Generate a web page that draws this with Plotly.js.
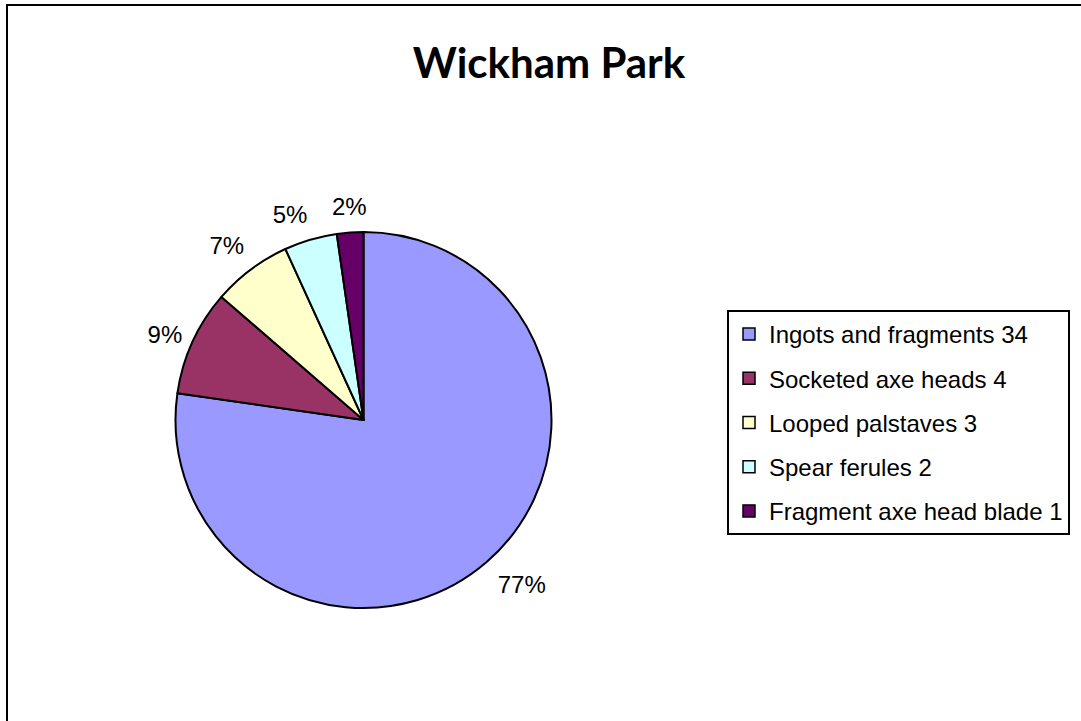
<!DOCTYPE html>
<html>
<head>
<meta charset="utf-8">
<script src="https://cdn.plot.ly/plotly-3.0.1.min.js"></script>
<style>
  html, body { margin: 0; padding: 0; background: #ffffff; }
  #chart { width: 1081px; height: 721px; }
</style>
</head>
<body>
<div id="chart"></div>
<script>
const chartTitle = 'Wickham Park';
const categories = ['Ingots and fragments 34', 'Socketed axe heads 4', 'Looped palstaves 3', 'Spear ferules 2', 'Fragment axe head blade 1'];
const counts = [34, 4, 3, 2, 1];
const sliceColors = ['#9999FF', '#993366', '#FFFFCC', '#CCFFFF', '#660066'];

// pie placement in pixels (centre and radius) – shared by the pie and the hidden label axes
const W = 1081, H = 721;
const cxPx = 363.5, cyPx = 420, rPx = 188;
const axisSpan = 1.5; // hidden label axes reach 1.5 radii from the centre
const pieDomX = [(cxPx - rPx) / W, (cxPx + rPx) / W];
const pieDomY = [(H - cyPx - rPx) / H, (H - cyPx + rPx) / H];
const axDomX = [(cxPx - axisSpan * rPx) / W, (cxPx + axisSpan * rPx) / W];
const axDomY = [(H - cyPx - axisSpan * rPx) / H, (H - cyPx + axisSpan * rPx) / H];
const labelFont = { family: 'Liberation Sans, Arial, sans-serif', size: 24, color: '#000000' };
const labelRadius = { top: 1.06, middle: 1.06, bottom: 1.09 };

const total = counts.reduce((a, b) => a + b, 0);

const pieTrace = {
  type: 'pie',
  labels: categories,
  values: counts,
  sort: false,
  direction: 'clockwise',
  rotation: 0,
  marker: { colors: sliceColors, line: { color: '#000000', width: 2 } },
  textinfo: 'none',
  hoverinfo: 'label+value+percent',
  showlegend: false,
  domain: { x: pieDomX, y: pieDomY }
};

// percentage labels outside the slices, placed from the data through hidden axes
const lx = [], ly = [], lt = [], lp = [];
let cum = 0;
counts.forEach(v => {
  const mid = (cum + v / 2) / total * 2 * Math.PI;
  cum += v;
  const s = Math.sin(mid), c = Math.cos(mid);
  const vert = c > 0.5 ? 'top' : (c < -0.5 ? 'bottom' : 'middle');
  const hor = Math.abs(s) < 0.2 ? 'center' : (s > 0 ? 'right' : 'left');
  const rad = labelRadius[vert];
  lx.push(rad * s);
  ly.push(rad * c);
  lt.push(Math.round(v / total * 100) + '%');
  lp.push(vert + ' ' + hor);
});

const labelTrace = {
  type: 'scatter', mode: 'text',
  x: lx, y: ly, text: lt, textposition: lp,
  textfont: labelFont, cliponaxis: false,
  hoverinfo: 'skip', showlegend: false
};

// legend entries, one per category
const legendTraces = categories.map((name, i) => ({
  type: 'scatter', mode: 'markers',
  x: [null], y: [null], name: name,
  legendgroup: 'g' + i, showlegend: true,
  marker: { symbol: 'square', size: 12, color: sliceColors[i], line: { color: '#000000', width: 1.5 } },
  hoverinfo: 'skip'
}));

const layout = {
  width: W,
  height: H,
  margin: { l: 0, r: 0, t: 0, b: 0 },
  paper_bgcolor: '#ffffff',
  plot_bgcolor: 'rgba(0,0,0,0)',
  title: {
    text: '<b>' + chartTitle + '</b>',
    x: 549 / W, xanchor: 'center', xref: 'paper',
    y: 1 - 63 / H, yanchor: 'middle', yref: 'container',
    font: { family: 'Lato, Open Sans, sans-serif', size: 42, color: '#000000' }
  },
  xaxis: { domain: axDomX, range: [-axisSpan, axisSpan], visible: false, fixedrange: true },
  yaxis: { domain: axDomY, range: [-axisSpan, axisSpan], visible: false, fixedrange: true },
  showlegend: true,
  legend: {
    x: 727 / W, xanchor: 'left',
    y: 1 - 310 / H, yanchor: 'top',
    bordercolor: '#000000', borderwidth: 2,
    bgcolor: '#ffffff',
    font: { family: 'Liberation Sans, Arial, sans-serif', size: 24, color: '#000000' },
    traceorder: 'grouped', tracegroupgap: 10
  },
  shapes: [{
    type: 'rect', xref: 'paper', yref: 'paper',
    x0: 7 / W, x1: 1.05, y0: -0.05, y1: 1 - 5 / H,
    line: { color: '#000000', width: 2 }, fillcolor: 'rgba(0,0,0,0)', layer: 'above'
  }]
};

Plotly.newPlot('chart', [pieTrace, labelTrace].concat(legendTraces), layout, { displayModeBar: false, staticPlot: true });
</script>
</body>
</html>
